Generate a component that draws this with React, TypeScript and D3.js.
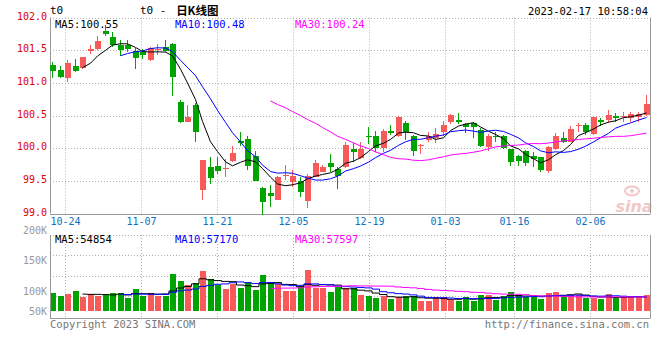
import React from "react";
import * as d3 from "d3";

const opens = [101.275,101.204,101.081,101.265,101.224,101.49,101.525,101.79,101.709,101.576,101.576,101.49,101.479,101.346,101.5,101.555,101.602,100.714,100.408,100.663,99.367,99.719,99.734,99.688,99.8,100.117,100.147,99.887,99.397,99.321,99.214,99.586,99.48,99.49,99.193,99.566,99.642,99.78,99.683,99.709,99.99,99.846,100.193,100.193,100.005,100.27,100.183,100.387,100.193,100.041,100.132,100.158,100.254,100.408,100.438,100.372,100.387,100.285,100.015,100.193,100.183,99.99,99.877,99.964,99.887,99.862,99.658,99.99,100.158,100.101,100.357,100.362,100.219,100.438,100.438,100.499,100.484,100.464,100.479,100.515];
const highs = [101.326,101.265,101.35,101.372,101.4,101.58,101.71,101.887,101.775,101.657,101.653,101.54,101.52,101.55,101.596,101.65,101.612,100.744,100.668,100.693,99.826,99.867,99.867,99.836,100.04,100.255,100.193,99.964,99.408,99.438,99.581,99.75,99.668,99.56,99.612,99.826,99.75,99.908,99.719,100.1,100.081,100.091,100.326,100.27,100.295,100.362,100.49,100.418,100.204,100.07,100.244,100.316,100.423,100.53,100.535,100.387,100.397,100.305,100.219,100.254,100.204,99.99,99.897,99.979,99.938,99.862,100.04,100.229,100.254,100.336,100.382,100.387,100.474,100.464,100.591,100.54,100.55,100.55,100.55,100.821];
const lows = [101.07,101.07,101.01,101.17,101.21,101.44,101.51,101.714,101.556,101.408,101.47,101.21,101.36,101.336,101.43,101.47,100.806,100.392,100.397,100.1,99.21,99.454,99.612,99.566,99.785,100.03,99.673,99.494,98.984,99.1,99.204,99.51,99.407,99.25,99.08,99.556,99.632,99.632,99.377,99.698,99.785,99.836,100.07,99.938,99.938,100.204,100.17,100.122,99.887,99.918,100.1,100.081,100.183,100.367,100.377,100.234,100.163,100.015,99.964,100.1,99.99,99.724,99.724,99.734,99.709,99.642,99.617,99.979,100.081,100.091,100.245,100.209,100.204,100.336,100.387,100.397,100.408,100.397,100.408,100.5];
const closes = [101.188,101.096,101.31,101.178,101.392,101.525,101.647,101.744,101.576,101.5,101.515,101.377,101.428,101.54,101.515,101.49,101.096,100.408,100.484,100.244,99.816,99.54,99.658,99.7,99.933,100.086,99.734,99.505,99.183,99.275,99.566,99.596,99.58,99.326,99.581,99.78,99.719,99.709,99.581,100.056,99.938,99.99,100.183,100.005,100.26,100.229,100.484,100.244,99.964,100.056,100.183,100.224,100.362,100.515,100.408,100.331,100.331,100.04,100.183,100.168,99.999,99.785,99.811,99.77,99.836,99.673,100.025,100.193,100.09,100.295,100.362,100.244,100.474,100.397,100.515,100.464,100.489,100.53,100.53,100.683];
const volumes = [73000,61000,68000,80000,56000,68000,61000,64000,72000,72000,53000,88000,61000,72000,61000,59000,148000,120000,104000,112000,160000,128000,104000,88000,107000,92000,116000,84000,144000,116000,108000,80000,80000,100000,164000,91000,91000,76000,95000,91000,91000,64000,61000,52000,61000,48000,55000,61000,61000,40000,40000,55000,55000,44000,41000,55000,41000,64000,64000,44000,61000,75000,64000,55000,55000,48000,72000,76000,64000,64000,64000,51000,51000,48000,68000,51000,56000,56000,56000,64000];

const tickDates = ["10-24", "11-07", "11-21", "12-05", "12-19", "01-03", "01-16", "02-06"];
const tickIndex = [2, 12, 22, 32, 42, 52, 61, 71];
const priceTicks = [99, 99.5, 100, 100.5, 101, 101.5, 102];
const volTickLabels = ["200K", "150K", "100K", "50K"];
const priceLegend = ["MA5:100.55", "MA10:100.48", "MA30:100.24"];
const volLegend = ["MA5:54854", "MA10:57170", "MA30:57597"];
const maPeriods = [5, 10, 30];
const maColors = ["#000000", "#0000ff", "#ff00ff"];

const RED = "#f85a5a";
const GREEN = "#00a300";
const MONO = "'DejaVu Sans Mono', 'Liberation Mono', monospace";

function movingAverage(arr: number[], n: number): (number | null)[] {
  return arr.map((_, i) => (i < n - 1 ? null : (d3.mean(arr.slice(i - n + 1, i + 1)) as number)));
}

export default function App() {
  const N = closes.length;
  const plotL = 50;
  const plotR = 650.5;
  const pTop = 17.5;
  const pBot = 213.5;
  const vTop = 235;
  const vBot = 318;
  const vBase = 311;

  const x = d3.scaleLinear().domain([0, N - 1]).range([53, 646.5]);
  const xt = d3.scaleLinear().domain([0, N - 1]).range([plotL, plotR]);
  const y = d3.scaleLinear().domain([99, 102]).range([pBot, pTop]);
  const yv = d3.scaleLinear().domain([0, 200000]).range([vBase, vBase - 50]);
  const volLabelY = d3.scaleLinear().domain([0, 1, 2, 3]).range([230, 260, 291, 311]);

  const bodyLeft = (i: number) => Math.round(x(i)) - 3;
  const cx = (i: number) => bodyLeft(i) + 2.5;

  const priceMA = maPeriods.map((p) => movingAverage(closes, p));
  const volMA = maPeriods.map((p) => movingAverage(volumes, p));

  const priceLine = d3
    .line<number | null>()
    .defined((d) => d != null)
    .x((_, i) => cx(i))
    .y((d) => y(d as number));
  const volLine = d3
    .line<number | null>()
    .defined((d) => d != null)
    .x((_, i) => cx(i))
    .y((d) => yv(d as number))
    .curve(d3.curveStep);

  const gridColor = "#b0b0b0";
  const borderColor = "#999";
  const dash = "1,2";
  const volGrid = [1, 2, 3].map((k) => vTop + k * 20.3);

  return (
    <svg
      width={660}
      height={360}
      style={{ position: "absolute", left: 0, top: 0, display: "block", background: "#fff" }}
      fontFamily={MONO}
      fontSize={10}
    >
      <rect x={0} y={0} width={660} height={360} fill="#fff" />
      {/* header */}
      <text x={50} y={10} dominantBaseline="central" fill="#000" fontSize={11}>t0</text>
      <text x={140} y={10} dominantBaseline="central" fill="#000">
        <tspan fontSize={11}>t0 - </tspan>
        <tspan fontFamily="'Noto Sans CJK SC', sans-serif" fontSize={11.5} fontWeight="bold" dx={3}>日K线图</tspan>
      </text>
      <text x={648} y={10.5} dominantBaseline="central" textAnchor="end" fill="#000" fontSize={10.5}>2023-02-17 10:58:04</text>

      {/* price grid */}
      {priceTicks.slice(1).map((t) => (
        <line key={"pg" + t} x1={plotL} x2={plotR} y1={Math.round(y(t)) + 0.5} y2={Math.round(y(t)) + 0.5} stroke={gridColor} strokeDasharray={dash} />
      ))}
      {tickIndex.map((ti, k) => {
        const gx = Math.round(xt(ti)) + 0.5;
        return (
          <g key={"vg" + k}>
            <line x1={gx} x2={gx} y1={pTop} y2={pBot} stroke={gridColor} strokeDasharray={dash} />
            <line x1={gx} x2={gx} y1={vTop} y2={vBot} stroke={gridColor} strokeDasharray={dash} />
            <text x={gx} y={221} textAnchor="middle" dominantBaseline="central" fill="#0a72c2">{tickDates[k]}</text>
          </g>
        );
      })}
      {/* price axis labels */}
      {priceTicks.map((t) => (
        <text key={"pl" + t} x={47} y={y(t) - 1.5} textAnchor="end" dominantBaseline="central" fill="#e00000">{t.toFixed(1)}</text>
      ))}
      {/* watermark */}
      <g opacity={0.55}>
        <ellipse cx={632} cy={191} rx={7} ry={4.5} fill="none" stroke="#e79a9a" strokeWidth={2} />
        <circle cx={632} cy={191} r={2} fill="#e79a9a" />
        <text x={634} y={206} textAnchor="middle" dominantBaseline="central" fontFamily="'DejaVu Sans', sans-serif" fontStyle="italic" fontWeight="bold" fontSize={16} fill="#e79a9a">sina</text>
      </g>
      {/* price borders */}
      <line x1={plotL + 0.5} x2={plotL + 0.5} y1={pTop} y2={pBot} stroke={borderColor} />
      <line x1={plotR} x2={plotR} y1={pTop} y2={pBot} stroke={borderColor} />
      <line x1={plotL} x2={plotR} y1={Math.round(pBot) + 0.5} y2={Math.round(pBot) + 0.5} stroke={borderColor} />

      {/* candles */}
      {closes.map((c, i) => {
        const o = opens[i];
        const up = c >= o;
        const col = up ? RED : GREEN;
        const L = bodyLeft(i);
        const yt = Math.round(y(Math.max(o, c)));
        const yb = Math.round(y(Math.min(o, c)));
        const yh = Math.round(y(highs[i]));
        const yl = Math.round(y(lows[i]));
        return (
          <g key={"c" + i}>
            <rect x={L + 2} y={yh} width={1} height={Math.max(1, yl - yh)} fill={col} />
            <rect x={L} y={yt} width={6} height={Math.max(1, yb - yt)} fill={col} />
          </g>
        );
      })}
      {/* price MAs */}
      {priceMA.map((m, k) => (
        <path key={"pm" + k} d={priceLine(m) || ""} fill="none" stroke={maColors[k]} strokeWidth={1} />
      ))}
      {priceLegend.map((t, k) => (
        <text key={"plg" + k} x={55 + k * 120} y={23.5} dominantBaseline="central" fill={maColors[k]} fontSize={10.5}>{t}</text>
      ))}

      {/* volume panel */}
      <line x1={plotL} x2={plotR} y1={vTop + 0.5} y2={vTop + 0.5} stroke={gridColor} strokeDasharray={dash} />
      {volGrid.map((g, k) => (
        <line key={"vgl" + k} x1={plotL} x2={plotR} y1={Math.round(g) + 0.5} y2={Math.round(g) + 0.5} stroke={gridColor} strokeDasharray={dash} />
      ))}
      {volumes.map((v, i) => {
        const up = closes[i] >= opens[i];
        const top = Math.round(yv(v));
        return <rect key={"v" + i} x={bodyLeft(i)} y={top} width={6} height={vBase - top} fill={up ? RED : GREEN} />;
      })}
      {volMA.map((m, k) => (
        <path key={"vm" + k} d={volLine(m) || ""} fill="none" stroke={maColors[k]} strokeWidth={1} />
      ))}
      <line x1={plotL + 0.5} x2={plotL + 0.5} y1={vTop} y2={vBot} stroke={borderColor} />
      <line x1={plotR} x2={plotR} y1={vTop} y2={vBot} stroke={borderColor} />
      <line x1={plotL} x2={plotR} y1={vBot + 0.5} y2={vBot + 0.5} stroke={borderColor} />
      {volTickLabels.map((t, k) => (
        <text key={"vl" + k} x={47} y={volLabelY(k)} textAnchor="end" dominantBaseline="central" fill="#999">{t}</text>
      ))}
      {volLegend.map((t, k) => (
        <text key={"vlg" + k} x={55 + k * 120} y={239} dominantBaseline="central" fill={maColors[k]} fontSize={10.5}>{t}</text>
      ))}

      {/* footer */}
      <text x={50} y={323.5} dominantBaseline="central" fill="#777" fontSize={10.5}>Copyright 2023 SINA.COM</text>
      <text x={649} y={323.5} textAnchor="end" dominantBaseline="central" fill="#777" fontSize={10.5}>http://finance.sina.com.cn</text>
    </svg>
  );
}
